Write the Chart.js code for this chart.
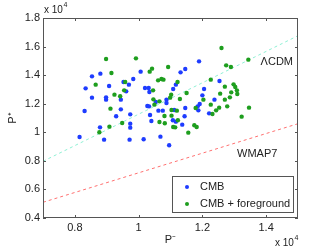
<!DOCTYPE html>
<html><head><meta charset="utf-8">
<script src="https://cdn.jsdelivr.net/npm/chart.js@4.4.1/dist/chart.umd.min.js"></script>
<style>html,body{margin:0;padding:0;background:#fff;overflow:hidden}canvas{display:block}</style>
</head><body>
<canvas id="c" width="329" height="247" style="width:329px;height:247px"></canvas>
<script>
// CMB (blue)
const cmbX = [8147,8305,8337,8537,8537,8800,8789,8916,8979,8979,9074,9295,9442,9442,9526,9611,9695,9737,9737,9737,9716,9832,10063,10158,10200,10316,10337,10274,10326,10358,10400,10537,10621,10758,10684,10874,10874,10958,11084,11168,11316,11463,11116,11074,11168,11368,11463,11442,11895,11916,11853,11874,12000,12053,12211,12379,12537];
const cmbY = [9670,11490,13077,13917,12424,14104,10347,9484,12447,12284,13241,11118,12284,11607,13521,12867,13334,11257,10604,10324,9484,13731,14244,9508,13101,13101,12821,11841,11817,11211,10791,12121,11514,11514,9695,12284,12051,9088,13030,13334,14197,14430,11561,10838,10744,10534,11701,11118,14967,11981,11817,11537,12587,13030,11327,12284,13590];
// CMB + foreground (green)
const fgX = [8653,8768,8979,9147,9116,9242,9084,9421,9484,9579,9547,9916,10347,10421,10453,10463,10495,10611,10716,10779,10653,10653,10811,10821,10926,11021,10989,11032,11200,11032,11084,11147,11221,11232,11295,11505,11558,11789,11747,11821,12032,12263,12263,12316,12432,12526,12558,12600,12705,12705,12747,12779,12863,12895,12905,12979,13032,13084,13095,13232,13442,13463];
const fgY = [13334,9998,15130,14150,11654,12634,10394,12518,10651,13521,12937,15177,14244,14454,12937,12307,11934,13637,13731,13684,12167,10721,11141,10628,14570,12634,12424,11561,11514,11164,10371,10347,13521,10838,12331,12751,9974,11701,10488,10371,12284,13684,11934,11281,11537,11724,12704,15900,13194,12284,14687,11817,12447,14570,12797,13357,13171,12937,12681,11094,15084,11724];
// reference lines
const lcdmX = [7000, 15000];
const lcdmY = [7970, 16760];
const wmapX = [7000, 15000];
const wmapY = [5100, 10600];
// ticks
const xTicks = [8000, 10000, 12000, 14000];
const xTickLabels = ['0.8', '1', '1.2', '1.4'];
const yTicks = [4000, 6000, 8000, 10000, 12000, 14000, 16000, 18000];
const yTickLabels = ['0.4', '0.6', '0.8', '1', '1.2', '1.4', '1.6', '1.8'];
const seriesNames = ['CMB', 'CMB + foreground'];
const lineNames = ['\u039BCDM', 'WMAP7'];

const FONT = "'Liberation Sans', Arial, Helvetica, sans-serif";
const BLUE = '#1e3cff', GREEN = '#1e9e1e';
const zip = (xs, ys) => xs.map((x, i) => ({x, y: ys[i]}));

function multiplier(ctx, x, y) {
  ctx.font = '10px ' + FONT;
  ctx.textAlign = 'left';
  ctx.fillText('x 10', x, y);
  const w = ctx.measureText('x 10').width;
  ctx.font = '7px ' + FONT;
  ctx.fillText('4', x + w + 0.5, y - 5);
}

const frame = {
  id: 'frame',
  afterDatasetsDraw(chart) {
    const ctx = chart.ctx, a = chart.chartArea;
    const xs = chart.scales.x, ys = chart.scales.y;
    ctx.save();
    ctx.strokeStyle = '#555'; ctx.lineWidth = 1;
    ctx.strokeRect(Math.round(a.left) + 0.5, Math.round(a.top) + 0.5, Math.round(a.right - a.left) - 1, Math.round(a.bottom - a.top) - 1);
    ctx.beginPath();
    xTicks.forEach(v => {
      const p = Math.round(xs.getPixelForValue(v)) + 0.5;
      ctx.moveTo(p, a.bottom); ctx.lineTo(p, a.bottom - 3);
      ctx.moveTo(p, a.top); ctx.lineTo(p, a.top + 3);
    });
    yTicks.forEach(v => {
      const p = Math.round(ys.getPixelForValue(v)) + 0.5;
      ctx.moveTo(a.left, p); ctx.lineTo(a.left + 3, p);
      ctx.moveTo(a.right, p); ctx.lineTo(a.right - 3, p);
    });
    ctx.stroke();
    // line labels
    ctx.fillStyle = '#222';
    ctx.font = '11px ' + FONT;
    ctx.textBaseline = 'middle';
    ctx.textAlign = 'right';
    ctx.fillText(lineNames[0], 293, 62);
    ctx.textAlign = 'left';
    ctx.fillText(lineNames[1], 237, 154);
    // multipliers
    multiplier(ctx, 44, 10);
    multiplier(ctx, 275, 243);
    // legend
    ctx.fillStyle = '#fff';
    ctx.fillRect(172.5, 176.5, 121, 36);
    ctx.strokeStyle = '#555';
    ctx.strokeRect(172.5, 176.5, 121, 36);
    [[BLUE, 187], [GREEN, 204]].forEach(([c, y], i) => {
      ctx.fillStyle = c;
      ctx.beginPath(); ctx.arc(187, y, 2, 0, Math.PI * 2); ctx.fill();
      ctx.fillStyle = '#222';
      ctx.font = '11px ' + FONT;
      ctx.fillText(seriesNames[i], 200, y);
    });
    ctx.restore();
  }
};

new Chart(document.getElementById('c'), {
  type: 'scatter',
  data: {
    datasets: [
      {label: seriesNames[0], data: zip(cmbX, cmbY), backgroundColor: BLUE, borderWidth: 0, pointRadius: 2.2, order: 1},
      {label: seriesNames[1], data: zip(fgX, fgY), backgroundColor: GREEN, borderWidth: 0, pointRadius: 2.2, order: 0},
      {label: lineNames[0], data: zip(lcdmX, lcdmY), showLine: true, borderColor: '#8ff0d4', borderWidth: 1, borderDash: [3, 3], pointRadius: 0, order: 3},
      {label: lineNames[1], data: zip(wmapX, wmapY), showLine: true, borderColor: '#ff7070', borderWidth: 1, borderDash: [3, 3], pointRadius: 0, order: 3}
    ]
  },
  options: {
    responsive: false, animation: false, devicePixelRatio: 1,
    layout: {padding: {top: 18, right: 31, left: 0, bottom: 0}},
    plugins: {legend: {display: false}, tooltip: {enabled: false}},
    scales: {
      x: {
        type: 'linear', min: 7000, max: 15000,
        afterBuildTicks: s => { s.ticks = xTicks.map(v => ({value: v})); },
        afterFit: s => { s.height = 29; },
        grid: {display: false, drawTicks: false},
        border: {display: false},
        ticks: {padding: 3, color: '#222', font: {family: FONT, size: 11}, maxRotation: 0,
          callback: v => xTickLabels[xTicks.indexOf(v)]},
        title: {display: true, text: 'P\u207B', color: '#222', font: {family: FONT, size: 11}, padding: {top: 0, bottom: 0}}
      },
      y: {
        type: 'linear', min: 4000, max: 18000,
        afterBuildTicks: s => { s.ticks = yTicks.map(v => ({value: v})); },
        afterFit: s => { s.width = 43; },
        grid: {display: false, drawTicks: false},
        border: {display: false},
        ticks: {padding: 3, color: '#222', font: {family: FONT, size: 11},
          callback: v => yTickLabels[yTicks.indexOf(v)]},
        title: {display: true, text: 'P\u207A', color: '#222', font: {family: FONT, size: 11}, padding: {top: 6, bottom: 0}}
      }
    }
  },
  plugins: [frame]
});
</script>
</body></html>
